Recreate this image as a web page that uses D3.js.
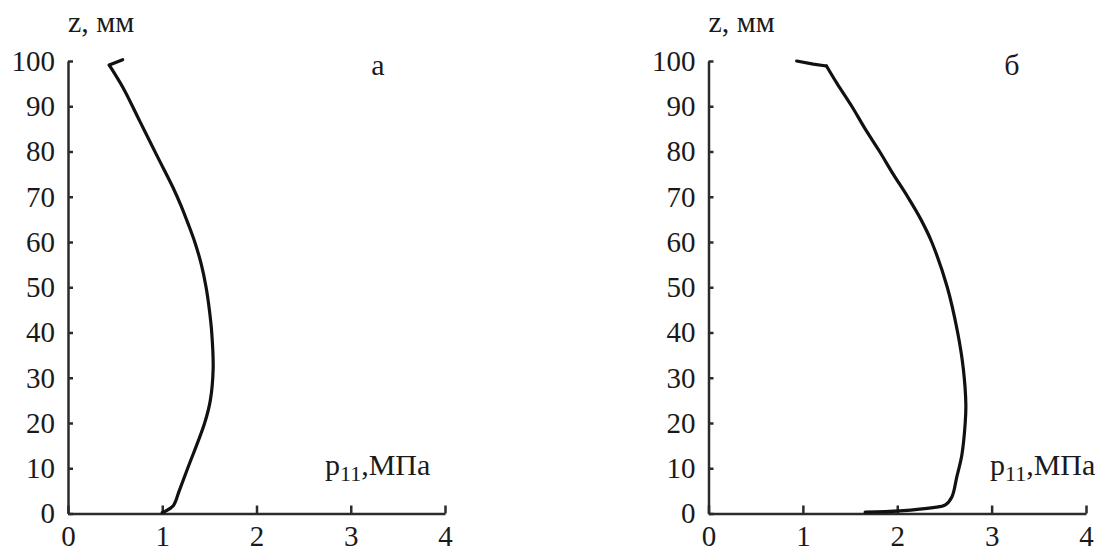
<!DOCTYPE html>
<html>
<head>
<meta charset="utf-8">
<script src="https://cdn.jsdelivr.net/npm/d3@7"></script>
<style>
  html, body { margin: 0; padding: 0; background: #fff; }
  svg { display: block; }
</style>
</head>
<body>
<svg id="chart" width="1105" height="552"></svg>
<script>
// Pressure p11 (MPa) along the height z (mm), two cases
const zTicks = [0, 10, 20, 30, 40, 50, 60, 70, 80, 90, 100];
const pTicks = [0, 1, 2, 3, 4];

// short straight end piece at the top edge of each profile
const zHookA = [100.3, 99.1];
const pHookA = [0.58, 0.438];
const zA = [99.1, 94, 86.6, 79.2, 72, 68, 64, 60, 55, 50, 45, 40, 32, 25, 20, 10, 5, 1.7, 0.6, 0.2];
const pA = [0.438, 0.587, 0.764, 0.941, 1.115, 1.2, 1.275, 1.345, 1.415, 1.465, 1.5, 1.525, 1.54, 1.51, 1.45, 1.27, 1.18, 1.117, 1.04, 1.0];

const zHookB = [100, 99.3, 98.9];
const pHookB = [0.934, 1.11, 1.25];
const zB = [98.9, 95, 90, 85, 80, 75, 70, 65, 60, 50, 40, 32, 24, 20, 13, 8, 3.7, 1.9, 1.3, 0.6, 0.3];
const pB = [1.25, 1.363, 1.518, 1.66, 1.813, 1.957, 2.11, 2.25, 2.365, 2.53, 2.64, 2.70, 2.727, 2.72, 2.685, 2.63, 2.58, 2.51, 2.38, 2.03, 1.66];

const SERIF = "'Liberation Serif', 'Times New Roman', serif";

const panels = [
  { z: zA, p: pA, hz: zHookA, hp: pHookA, letter: "а", x0: 68, x1: 445, letterX: 378, unitX: 325 },
  { z: zB, p: pB, hz: zHookB, hp: pHookB, letter: "б", x0: 708.5, x1: 1086, letterX: 1012, unitX: 990 }
];

const svg = d3.select("#chart");
const yTop = 61, yBottom = 513.5;

panels.forEach(pn => {
  const x = d3.scaleLinear().domain([0, 4]).range([pn.x0, pn.x1]);
  const y = d3.scaleLinear().domain([0, 100]).range([yBottom, yTop]);
  const g = svg.append("g");

  const yAxis = d3.axisLeft(y).tickValues(zTicks).tickFormat(d3.format("d"))
    .tickSizeInner(-5).tickSizeOuter(0).tickPadding(13);
  const xAxis = d3.axisBottom(x).tickValues(pTicks).tickFormat(d3.format("d"))
    .tickSizeInner(-8).tickSizeOuter(0).tickPadding(12);

  const ya = g.append("g").attr("transform", `translate(${pn.x0},0)`).call(yAxis);
  const xa = g.append("g").attr("transform", `translate(0,${yBottom})`).call(xAxis);

  [ya, xa].forEach(a => {
    a.attr("font-family", null).attr("font-size", null);
    a.select(".domain").attr("stroke", "#2b2b2b").attr("stroke-width", 2.5);
    a.selectAll(".tick line").attr("stroke", "#2b2b2b").attr("stroke-width", 2.5);
    a.selectAll(".tick text")
      .style("font-family", SERIF)
      .style("font-size", "29px")
      .attr("fill", "#1a1a1a");
  });

  // axis titles
  g.append("text")
    .attr("x", pn.x0)
    .attr("y", 32)
    .style("font-family", SERIF)
    .style("font-size", "30px")
    .attr("fill", "#1a1a1a")
    .text("z, мм");

  const pl = g.append("text")
    .attr("x", pn.unitX)
    .attr("y", 475)
    .style("font-family", SERIF)
    .style("font-size", "30px")
    .attr("fill", "#1a1a1a");
  pl.append("tspan").text("p");
  pl.append("tspan").style("font-size", "22px").attr("dy", 6).text("11");
  pl.append("tspan").attr("dy", -6).text(",МПа");

  // panel letter
  g.append("text")
    .attr("x", pn.letterX)
    .attr("y", 75)
    .attr("text-anchor", "middle")
    .style("font-family", SERIF)
    .style("font-size", "30px")
    .attr("fill", "#1a1a1a")
    .text(pn.letter);

  const body = pn.z.map((zz, i) => [pn.p[i], zz]);
  const hook = pn.hz.map((zz, i) => [pn.hp[i], zz]);

  const smooth = d3.line()
    .x(d => x(d[0]))
    .y(d => y(d[1]))
    .curve(d3.curveCatmullRom.alpha(0.5));
  const straight = d3.line()
    .x(d => x(d[0]))
    .y(d => y(d[1]));

  [[hook, straight], [body, smooth]].forEach(([pts, gen]) => {
    g.append("path")
      .datum(pts)
      .attr("fill", "none")
      .attr("stroke", "#111")
      .attr("stroke-width", 3.2)
      .attr("stroke-linejoin", "round")
      .attr("stroke-linecap", "round")
      .attr("d", gen);
  });
});
</script>
</body>
</html>
